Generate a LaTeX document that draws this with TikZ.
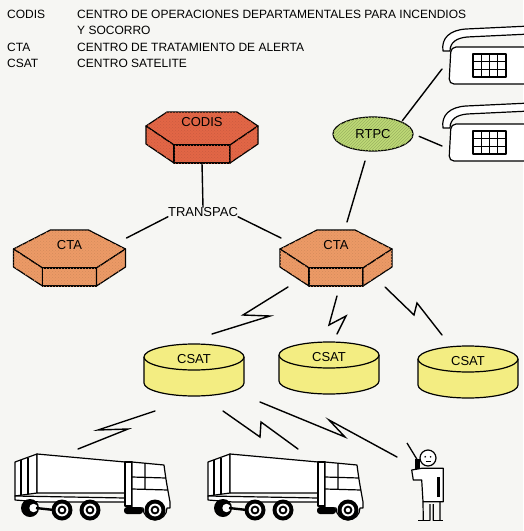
\documentclass[tikz,border=0pt]{standalone}
\usepackage{fontspec}
\setmainfont{Liberation Sans}
\usetikzlibrary{calc,shapes.geometric,patterns}

\definecolor{paper}{RGB}{246,246,243}
\definecolor{codisred}{RGB}{226,102,70}
\definecolor{ctaorange}{RGB}{236,154,102}
\definecolor{rtpcgreen}{RGB}{190,218,118}
\definecolor{csatyellow}{RGB}{243,237,130}

\tikzset{
  outline/.style={draw=black, line width=1.2pt, line join=round},
  link/.style={draw=black, line width=1.4pt, line cap=round},
  bolt/.style={draw=black, line width=1.4pt, line cap=round, line join=miter},
  legend/.style={font=\fontsize{12}{14}\selectfont, anchor=base west, inner sep=0pt},
  tag/.style={font=\fontsize{13}{15}\selectfont, inner sep=0pt},
  grain/.style={postaction={pattern=crosshatch dots, pattern color=#1}},
  % hexagonal prism: #1 half top edge, #2 rise of top edge, #3 half front edge,
  % #4 fill colour, #5 label
  pics/prism/.style n args={5}{code={
    \path[outline, fill=#4, grain=#4!90!black] (-56,0) -- (-#1,-#2) -- (#1,-#2) -- (56,0)
          -- (#3,19) -- (-#3,19) -- cycle;
    \path[outline, fill=#4, grain=#4!90!black] (-56,0) -- (-#3,19) -- (-#3,37) -- (-56,18) -- cycle;
    \path[outline, fill=#4, grain=#4!90!black] (-#3,19) -- (#3,19) -- (#3,37) -- (-#3,37) -- cycle;
    \path[outline, fill=#4, grain=#4!90!black] (#3,19) -- (56,0) -- (56,18) -- (#3,37) -- cycle;
    \node[tag] (-lbl) at (0,-4) {#5};
    \coordinate (-s) at (0,37);
    \coordinate (-wl) at (-55,-11);
    \coordinate (-el) at (57,-11);
    \coordinate (-sw) at (-48,38);
    \coordinate (-ss) at (1,47);
    \coordinate (-se) at (49,38);
  }},
  % flat cylinder
  pics/disk/.style={code={
    \fill[csatyellow] (-50,0) rectangle (50,26);
    \fill[csatyellow] (0,26) ellipse [x radius=50, y radius=13];
    \path[outline] (-50,0) -- (-50,26)
          arc [start angle=180, end angle=0, x radius=50, y radius=13] -- (50,0);
    \path[outline, fill=csatyellow] (0,0) ellipse [x radius=50, y radius=13];
    \node[tag] (-lbl) at (0,2) {#1};
  }},
  % desk telephone, origin at the top left corner of its base
  pics/phone/.style={code={
    \path[outline, fill=white, rounded corners=5pt] (1,0) -- (-1,37) -- (80,37) -- (80,0) -- cycle;
    \path[outline, fill=white] (-7,4) .. controls (-9,-9) and (0,-17) .. (16,-18)
          -- (80,-21) -- (80,-13) -- (17,-10) .. controls (7,-9) and (0,-5) .. (0,4) -- cycle;
    \path[outline, fill=white] (23,7) rectangle (56,30);
    \foreach \gx in {31.25,39.5,47.75} \draw[line width=1.1pt] (\gx,7) -- (\gx,30);
    \foreach \gy in {14.7,22.3} \draw[line width=1.1pt] (23,\gy) -- (56,\gy);
    \coordinate (-port) at (-8,22);
  }},
  wheel/.pic={
    \fill[black] (0,0) circle (10.5);
    \fill[white] (0,0) circle (6.4);
    \draw[line width=1.9pt] (0,0) circle (3.4);
  },
  % lorry seen from the side, origin at the rear top corner
  pics/truck/.style={code={
    \path[outline, fill=white] (3,10) -- (25,2) -- (25,41) -- (3,44) -- cycle;
    \draw[line width=1.3pt] (9,8) -- (9,43) (16,5.5) -- (16,42);
    \path[outline, fill=white] (25,2) -- (113,10) -- (113,41) -- (25,41) -- cycle;
    \path[outline, fill=white] (3,44) -- (113,46) -- (113,50) -- (28,50) -- (3,48) -- cycle;
    \path[outline, fill=white] (113,10) rectangle (120,54);
    \path[outline, fill=white] (120,10) -- (152,13) .. controls (154,28) .. (158,50)
          -- (158,56) -- (155,56) arc [start angle=0, end angle=180, radius=12] -- (120,56) -- cycle;
    \draw[line width=1.2pt] (133,11) -- (133,37) (120,25) -- (154,26) (120,37) -- (156,38);
    \fill[black, rounded corners=3pt] (112,55) rectangle (131,62);
    \fill[black] (18,56) circle (9);
    \fill[white] (21.5,56) circle (4.2);
    \draw[line width=2.4pt] (24,56) -- (42,58);
    \pic at (50,58) {wheel};
    \pic at (78,58) {wheel};
    \pic at (143,58) {wheel};
  }},
  % man with a walkie-talkie, origin at the centre of the head
  pics/walker/.style={code={
    \draw[line width=1.3pt] (-21,-15) -- (-10,3);
    \path[outline, fill=white] (-6.3,10.3) -- (15.3,10.3) -- (15.3,43.7) -- (-5,43.7)
          -- (-6.3,22) -- (-14.7,22) -- (-16.3,12) -- cycle;
    \fill[black] (-13,1) rectangle (-8.5,11);
    \draw[line width=2.8pt] (10.3,19) -- (10.3,38.7);
    \path[outline, fill=white] (0,0) circle (8);
    \fill (-2.8,-1.2) circle (0.9) (2.6,-1.2) circle (0.9);
    \draw[line width=0.9pt] (-2.5,3.2) -- (2.5,3.2);
    \draw[line width=1.2pt] (-5,43.7) -- (-4.7,62.7) (2,46) -- (2,62.7)
          (5.3,46) -- (5.3,62.7) (12,43.7) -- (12,62.7);
    \draw[line width=1.5pt] (-9.7,62.7) -- (2,62.7) (5.3,62.7) -- (15.3,62.7);
    \coordinate (-ear) at (-31,-1);
  }},
}

\begin{document}
\begin{tikzpicture}[x=1pt, y=-1pt]
  \useasboundingbox[fill=paper] (0,0) rectangle (523,531);

  % legend
  \node[legend] (abbr1) at (7,18) {CODIS};
  \node[legend] (def1) at (77,18) {CENTRO DE OPERACIONES DEPARTAMENTALES PARA INCENDIOS};
  \node[legend] (def1b) at (77,34) {Y SOCORRO};
  \node[legend] (abbr2) at (7,51) {CTA};
  \node[legend] (def2) at (77,51) {CENTRO DE TRATAMIENTO DE ALERTA};
  \node[legend] (abbr3) at (7,67) {CSAT};
  \node[legend] (def3) at (77,67) {CENTRO SATELITE};

  % telephone network
  \pic (ph1) at (450,47) {phone};
  \pic (ph2) at (450,124) {phone};
  \node[ellipse, outline, fill=rtpcgreen,
        postaction={pattern=north east lines, pattern color=rtpcgreen!82!black},
        minimum width=80pt, minimum height=34pt,
        inner sep=0pt, font=\fontsize{13}{15}\selectfont] (rtpc) at (373,134) {RTPC};
  \draw[link, shorten <=1pt] (rtpc.north east) -- (ph1-port);
  \draw[link, shorten <=6pt] (rtpc.east) -- (ph2-port);

  % centres
  \pic (codis) at (202,126) {prism={35}{14}{28}{codisred}{CODIS}};
  \pic (ctaL) at (69.5,249) {prism={19}{19}{27}{ctaorange}{CTA}};
  \pic (ctaR) at (336,249) {prism={19}{19}{27}{ctaorange}{CTA}};
  \node[tag] (transpac) at (203,212) {TRANSPAC};

  \coordinate (rtpcfoot) at (347,222);
  \draw[link] (codis-s) -- (transpac.north);
  \draw[link] (transpac.south west) -- (ctaL-el);
  \draw[link] (transpac.south east) -- (ctaR-wl);
  \draw[link, shorten <=10pt] (rtpc) -- (rtpcfoot);

  % satellite centres
  \pic (csat1) at (194,357) {disk=CSAT};
  \pic (csat2) at (329,355) {disk=CSAT};
  \pic (csat3) at (468,359) {disk=CSAT};

  \coordinate (b1e) at (212,334);
  \coordinate (b2e) at (337,334);
  \coordinate (b3e) at (442,335);
  \draw[bolt] (ctaR-sw) -- ++(-45,28) -- ++(27,1) -- (b1e);
  \draw[bolt] (ctaR-ss) -- ++(-8,29) -- ++(17,-9) -- (b2e);
  \draw[bolt] (ctaR-se) -- ++(29,28) -- ++(3,-12) -- (b3e);

  % mobile units
  \pic (truck1) at (12,452) {truck};
  \pic (truck2) at (205,452) {truck};
  \pic (man) at (428,458) {walker};

  \coordinate (m1s) at (155,411);
  \coordinate (m2s) at (223,411);
  \coordinate (m3s) at (260,402);
  \coordinate (t1e) at (78,449);
  \coordinate (t2e) at (298,449);
  \draw[bolt] (m1s) -- ++(-57,19) -- ++(30,-1) -- (t1e);
  \draw[bolt] (m2s) -- ++(37,26) -- ++(1,-15) -- (t2e);
  \draw[bolt] (m3s) -- ++(85,35) -- ++(-16,-17) -- (man-ear);
\end{tikzpicture}
\end{document}
